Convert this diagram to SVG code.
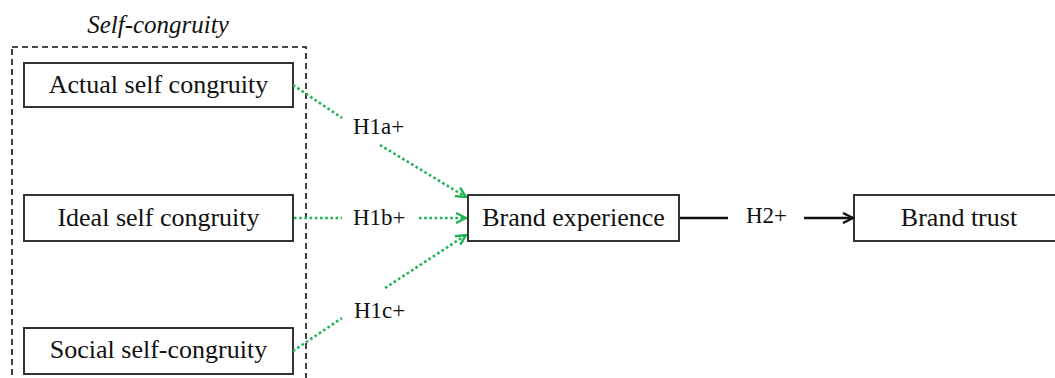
<svg xmlns="http://www.w3.org/2000/svg" width="1055" height="378" viewBox="0 0 1055 378">
  <style>
    .box { fill: #ffffff; stroke: #333333; stroke-width: 2; }
    .group { fill: none; stroke: #111111; stroke-width: 1.6; stroke-dasharray: 6 4; }
    .label { font-family: "Liberation Serif", "Times New Roman", serif; font-size: 26px; fill: #111111; text-anchor: middle; }
    .hyp { font-family: "Liberation Serif", "Times New Roman", serif; font-size: 23px; fill: #111111; text-anchor: start; }
    .title { font-family: "Liberation Serif", "Times New Roman", serif; font-size: 25px; font-style: italic; fill: #111111; text-anchor: middle; }
    .dot { fill: none; stroke: #1fb453; stroke-width: 2.6; stroke-dasharray: 2.6 2.6; }
    .solid { fill: none; stroke: #111111; stroke-width: 2.4; }
  </style>
  <defs>
    <marker id="arrowGreen" viewBox="0 0 12 12" refX="11" refY="6" markerWidth="12" markerHeight="12" markerUnits="userSpaceOnUse" orient="auto">
      <path d="M1,1 L11,6 L1,11" fill="none" stroke="#1fb453" stroke-width="2.4"/>
    </marker>
    <marker id="arrowBlack" viewBox="0 0 12 12" refX="11" refY="6" markerWidth="12" markerHeight="12" markerUnits="userSpaceOnUse" orient="auto">
      <path d="M1,1 L11,6 L1,11" fill="none" stroke="#111111" stroke-width="2.4"/>
    </marker>
  </defs>

  <!-- Self-congruity construct grouping -->
  <g id="self-congruity">
    <rect class="group" x="12" y="47" width="294" height="345"/>
    <text class="title" x="158" y="33">Self-congruity</text>
  </g>

  <g id="actual">
    <rect class="box" x="24" y="63" width="269" height="44"/>
    <text class="label" x="158.5" y="93">Actual self congruity</text>
  </g>

  <g id="ideal">
    <rect class="box" x="24" y="195" width="269" height="46"/>
    <text class="label" x="158.5" y="226">Ideal self congruity</text>
  </g>

  <g id="social">
    <rect class="box" x="24" y="328" width="269" height="46"/>
    <text class="label" x="158.5" y="358">Social self-congruity</text>
  </g>

  <g id="experience">
    <rect class="box" x="468" y="195" width="211" height="46"/>
    <text class="label" x="573.5" y="226">Brand experience</text>
  </g>

  <g id="trust">
    <rect class="box" x="854" y="195" width="210" height="46"/>
    <text class="label" x="959" y="226">Brand trust</text>
  </g>

  <!-- Hypothesised paths -->
  <g id="connectors">
    <path class="dot" d="M293,85 L342,118"/>
    <path class="dot" d="M380,145 L466,197" marker-end="url(#arrowGreen)"/>
    <text class="hyp" x="353" y="134">H1a+</text>

    <path class="dot" d="M294,218 L342,218"/>
    <path class="dot" d="M419,218 L466,218" marker-end="url(#arrowGreen)"/>
    <text class="hyp" x="353" y="225">H1b+</text>

    <path class="dot" d="M293,351 L342,318"/>
    <path class="dot" d="M385,288 L466,235" marker-end="url(#arrowGreen)"/>
    <text class="hyp" x="354" y="318">H1c+</text>

    <path class="solid" d="M680,218 L728,218"/>
    <path class="solid" d="M804,218 L853,218" marker-end="url(#arrowBlack)"/>
    <text class="hyp" x="746" y="223">H2+</text>
  </g>
</svg>
